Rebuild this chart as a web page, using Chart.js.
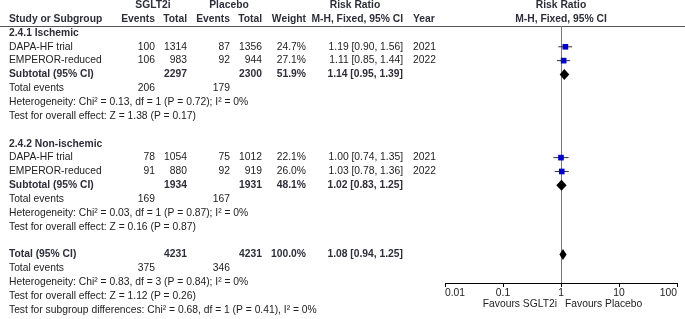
<!doctype html>
<html lang="en">
<head>
<meta charset="utf-8">
<title>Risk Ratio forest plot</title>
<script src="https://cdn.jsdelivr.net/npm/chart.js@4"></script>
<style>
  html, body { margin: 0; padding: 0; background: #fff; }
  #wrap { width: 685px; height: 319px; position: relative; }
</style>
</head>
<body>
<div id="wrap"><canvas id="forest"></canvas></div>
<script>
// individual studies
const studyNames = ['DAPA-HF trial', 'EMPEROR-reduced', 'DAPA-HF trial', 'EMPEROR-reduced'];
const studyRows = [1, 2, 9, 10];
const sgltEvents = [100, 106, 78, 91];
const sgltTotal = [1314, 983, 1054, 880];
const placeboEvents = [87, 92, 75, 92];
const placeboTotal = [1356, 944, 1012, 919];
const studyWeight = [24.7, 27.1, 22.1, 26.0];
const studyRR = [1.19, 1.11, 1.00, 1.03];
const studyLo = [0.90, 0.85, 0.74, 0.78];
const studyHi = [1.56, 1.44, 1.35, 1.36];
const studyYear = [2021, 2022, 2021, 2022];

// subgroups + overall (last entry = overall total)
const groupTitles = ['2.4.1 Ischemic', '2.4.2 Non-ischemic'];
const groupRows = [0, 8];
const sumLabels = ['Subtotal (95% CI)', 'Subtotal (95% CI)', 'Total (95% CI)'];
const sumRows = [3, 11, 16];
const sumSgltTotal = [2297, 1934, 4231];
const sumPlaceboTotal = [2300, 1931, 4231];
const sumWeight = [51.9, 48.1, 100.0];
const sumRR = [1.14, 1.02, 1.08];
const sumLo = [0.95, 0.83, 0.94];
const sumHi = [1.39, 1.25, 1.25];
const sumSgltEvents = [206, 169, 375];
const sumPlaceboEvents = [179, 167, 346];
const hetChi = [0.13, 0.03, 0.83];
const hetDf = [1, 1, 3];
const hetP = [0.72, 0.87, 0.84];
const hetI2 = [0, 0, 0];
const effectZ = [1.38, 0.16, 1.12];
const effectP = [0.17, 0.87, 0.26];
const subgroupDiff = { chi: 0.68, df: 1, p: 0.41, i2: 0 };

// x axis
const xTickValues = [0.01, 0.1, 1, 10, 100];
const xTickLabels = ['0.01', '0.1', '1', '10', '100'];

const FONT = '"Liberation Sans", Arial, sans-serif';
const FS = '10.3px ';
Chart.defaults.font.family = FONT;

// column positions of the table (px)
const col = { name: 9, sEv: 155, sTot: 187, pEv: 230, pTot: 262, w: 306, rr: 403, year: 413 };

const ciText = (r, lo, hi) => r.toFixed(2) + ' [' + lo.toFixed(2) + ', ' + hi.toFixed(2) + ']';

const forestPlugin = {
  id: 'forestTable',
  beforeDatasetsDraw(chart) {
    const ctx = chart.ctx, x = chart.scales.x, area = chart.chartArea;
    ctx.save();
    // header rule
    ctx.strokeStyle = '#555';
    ctx.lineWidth = 1;
    ctx.beginPath();
    ctx.moveTo(0, area.top + 0.5);
    ctx.lineTo(chart.width, area.top + 0.5);
    ctx.stroke();
    // line of no effect
    const x1 = Math.round(x.getPixelForValue(1)) + 0.5;
    ctx.strokeStyle = '#777';
    ctx.beginPath();
    ctx.moveTo(x1, area.top);
    ctx.lineTo(x1, area.bottom);
    ctx.stroke();
    ctx.restore();
  },
  afterDatasetsDraw(chart) {
    const ctx = chart.ctx, x = chart.scales.x, y = chart.scales.y, area = chart.chartArea;
    const rowY = r => y.getPixelForValue(r);
    ctx.save();
    // diamonds for pooled estimates
    ctx.fillStyle = '#000';
    sumRR.forEach((rr, i) => {
      const cy = rowY(sumRows[i]);
      ctx.beginPath();
      ctx.moveTo(x.getPixelForValue(sumLo[i]), cy);
      ctx.lineTo(x.getPixelForValue(rr), cy - 5.5);
      ctx.lineTo(x.getPixelForValue(sumHi[i]), cy);
      ctx.lineTo(x.getPixelForValue(rr), cy + 5.5);
      ctx.closePath();
      ctx.fill();
    });

    ctx.textBaseline = 'middle';
    const txt = (s, px, r, align, bold) => {
      ctx.font = (bold ? 'bold ' : '') + FS + FONT;
      ctx.textAlign = align || 'left';
      ctx.fillStyle = bold ? '#2e2e3a' : '#222';
      ctx.fillText(s, px, rowY(r));
    };

    // headers
    txt('SGLT2i', 153, -2, 'center', true);
    txt('Placebo', 229, -2, 'center', true);
    txt('Risk Ratio', 355, -2, 'center', true);
    const mid = (area.left + area.right) / 2;
    txt('Risk Ratio', mid, -2, 'center', true);
    txt('Study or Subgroup', col.name, -1, 'left', true);
    txt('Events', col.sEv, -1, 'right', true);
    txt('Total', col.sTot, -1, 'right', true);
    txt('Events', col.pEv, -1, 'right', true);
    txt('Total', col.pTot, -1, 'right', true);
    txt('Weight', col.w, -1, 'right', true);
    txt('M-H, Fixed, 95% CI', col.rr, -1, 'right', true);
    txt('Year', col.year, -1, 'left', true);
    txt('M-H, Fixed, 95% CI', mid, -1, 'center', true);

    groupTitles.forEach((t, i) => txt(t, col.name, groupRows[i], 'left', true));

    studyNames.forEach((n, i) => {
      const r = studyRows[i];
      txt(n, col.name, r);
      txt(String(sgltEvents[i]), col.sEv, r, 'right');
      txt(String(sgltTotal[i]), col.sTot, r, 'right');
      txt(String(placeboEvents[i]), col.pEv, r, 'right');
      txt(String(placeboTotal[i]), col.pTot, r, 'right');
      txt(studyWeight[i].toFixed(1) + '%', col.w, r, 'right');
      txt(ciText(studyRR[i], studyLo[i], studyHi[i]), col.rr, r, 'right');
      txt(String(studyYear[i]), col.year, r, 'left');
    });

    sumLabels.forEach((lab, i) => {
      const r = sumRows[i];
      txt(lab, col.name, r, 'left', true);
      txt(String(sumSgltTotal[i]), col.sTot, r, 'right', true);
      txt(String(sumPlaceboTotal[i]), col.pTot, r, 'right', true);
      txt(sumWeight[i].toFixed(1) + '%', col.w, r, 'right', true);
      txt(ciText(sumRR[i], sumLo[i], sumHi[i]), col.rr, r, 'right', true);
      txt('Total events', col.name, r + 1);
      txt(String(sumSgltEvents[i]), col.sEv, r + 1, 'right');
      txt(String(sumPlaceboEvents[i]), col.pEv, r + 1, 'right');
      txt('Heterogeneity: Chi\u00b2 = ' + hetChi[i].toFixed(2) + ', df = ' + hetDf[i] +
          ' (P = ' + hetP[i].toFixed(2) + '); I\u00b2 = ' + hetI2[i] + '%', col.name, r + 2);
      txt('Test for overall effect: Z = ' + effectZ[i].toFixed(2) +
          ' (P = ' + effectP[i].toFixed(2) + ')', col.name, r + 3);
    });
    txt('Test for subgroup differences: Chi\u00b2 = ' + subgroupDiff.chi.toFixed(2) + ', df = ' +
        subgroupDiff.df + ' (P = ' + subgroupDiff.p.toFixed(2) + '), I\u00b2 = ' + subgroupDiff.i2 + '%',
        col.name, 20);

    // favours labels
    const x1 = x.getPixelForValue(1);
    ctx.font = FS + FONT;
    ctx.fillStyle = '#222';
    ctx.textAlign = 'right';
    ctx.fillText('Favours SGLT2i', x1 - 4, 304);
    ctx.textAlign = 'left';
    ctx.fillText('Favours Placebo', x1 + 4, 304);
    ctx.restore();
  }
};

const datasets = [{
  label: 'Risk ratio',
  data: studyRR.map((v, i) => ({ x: v, y: studyRows[i] })),
  pointStyle: 'rect',
  pointRadius: 4,
  pointBackgroundColor: '#0000cc',
  pointBorderWidth: 0,
  showLine: false
}];
studyRR.forEach((v, i) => {
  datasets.push({
    label: 'CI ' + i,
    data: [{ x: studyLo[i], y: studyRows[i] }, { x: studyHi[i], y: studyRows[i] }],
    showLine: true,
    borderColor: '#333',
    borderWidth: 1,
    pointRadius: 0
  });
});

new Chart(document.getElementById('forest'), {
  type: 'scatter',
  data: { datasets },
  options: {
    responsive: true,
    maintainAspectRatio: false,
    animation: false,
    layout: { padding: { left: 445, right: 8, top: 26, bottom: 0 } },
    plugins: { legend: { display: false }, tooltip: { enabled: false } },
    scales: {
      x: {
        type: 'logarithmic',
        min: 0.01,
        max: 100,
        afterBuildTicks: s => { s.ticks = xTickValues.map(v => ({ value: v })); },
        afterFit: s => { s.height = 36; },
        ticks: {
          autoSkip: false,
          maxRotation: 0,
          padding: 0,
          align: 'inner',
          color: '#222',
          font: { size: 10.3 },
          callback: (v) => xTickLabels[xTickValues.indexOf(v)]
        },
        grid: { drawOnChartArea: false, drawTicks: true, tickLength: 4, color: '#000' },
        border: { display: true, color: '#000' }
      },
      y: {
        type: 'linear',
        min: -0.5,
        max: 18.05,
        reverse: true,
        display: false
      }
    }
  },
  plugins: [forestPlugin]
});
</script>
</body>
</html>
